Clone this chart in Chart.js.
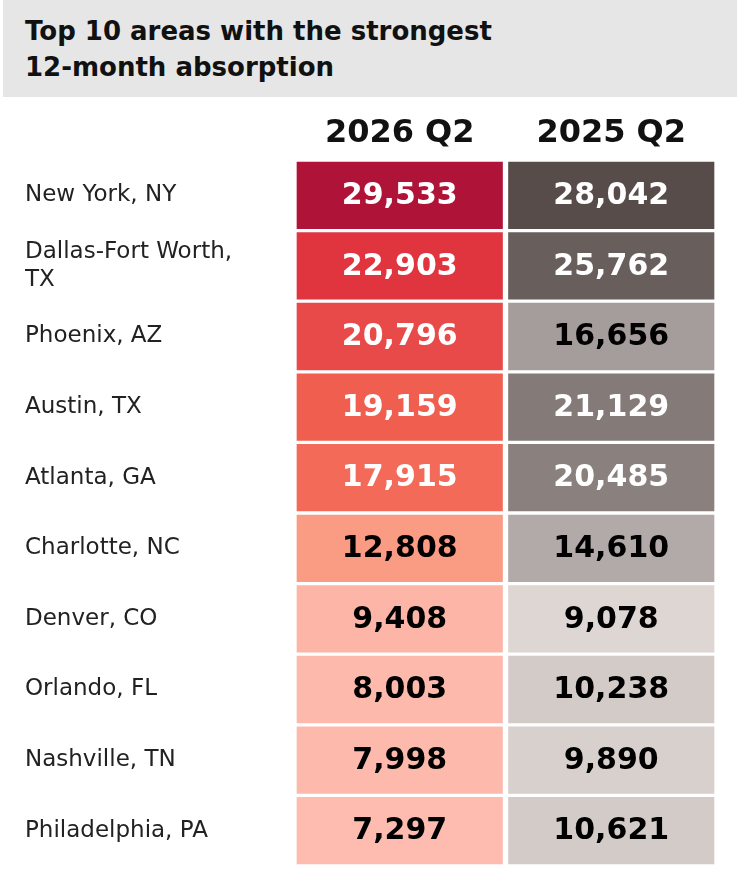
<!DOCTYPE html>
<html>
<head>
<meta charset="utf-8">
<script src="https://cdn.jsdelivr.net/npm/chart.js@4"></script>
<style>
  html, body { margin: 0; padding: 0; background: #fff; }
  #title {
    margin-left: 3px; width: 734px; height: 97px; box-sizing: border-box;
    background: #e6e6e6; padding: 13px 0 0 22px;
    font: bold 26px "DejaVu Sans", sans-serif; line-height: 36px; color: #111;
  }
  #wrap { width: 737px; height: 787px; position: relative; }
</style>
</head>
<body>
<div id="title">Top 10 areas with the strongest<br>12-month absorption</div>
<div id="wrap"><canvas id="heat"></canvas></div>
<script>
// ------------------------------
// Data
// ------------------------------
const areas = [
    'New York, NY', ['Dallas-Fort Worth,', 'TX'], 'Phoenix, AZ', 'Austin, TX', 'Atlanta, GA',
    'Charlotte, NC', 'Denver, CO', 'Orlando, FL', 'Nashville, TN', 'Philadelphia, PA'
];
const columns = ['2026 Q2', '2025 Q2'];
const q2026 = [29533, 22903, 20796, 19159, 17915, 12808, 9408, 8003, 7998, 7297];
const q2025 = [28042, 25762, 16656, 21129, 20485, 14610, 9078, 10238, 9890, 10621];

// Cell styling
const fill2026 = ['#b01338', '#e0353f', '#e84a49', '#ef5e4f', '#f36b58', '#fa9b83', '#fcb5a6', '#fdbaac', '#fdbaac', '#fdbcaf'];
const fill2025 = ['#574c4a', '#685e5c', '#a59d9b', '#847a78', '#8a807e', '#b2aaa8', '#ddd6d3', '#d3cbc8', '#d8d0cd', '#d3cbc8'];
const text2026 = ['#fff', '#fff', '#fff', '#fff', '#fff', '#000', '#000', '#000', '#000', '#000'];
const text2025 = ['#fff', '#fff', '#000', '#fff', '#fff', '#000', '#000', '#000', '#000', '#000'];

const cellBorder = { top: 2, bottom: 2, left: 3, right: 3 };

const cellLabels = {
    id: 'cellLabels',
    afterDatasetsDraw(chart) {
        const c = chart.ctx;
        const values = [q2026, q2025];
        const colors = [text2026, text2025];
        c.save();
        c.textAlign = 'center';
        c.textBaseline = 'middle';
        c.font = 'bold 30px "DejaVu Sans", sans-serif';
        chart.data.datasets.forEach((ds, di) => {
            chart.getDatasetMeta(di).data.forEach((bar, i) => {
                const p = bar.getProps(['x', 'base', 'y'], true);
                c.fillStyle = colors[di][i];
                c.fillText(values[di][i].toLocaleString('en-US'), (p.x + p.base) / 2, p.y + 1);
            });
        });
        // column headers
        const xs = chart.scales.x;
        c.fillStyle = '#111';
        c.font = 'bold 32px "DejaVu Sans", sans-serif';
        columns.forEach((h, i) => c.fillText(h, xs.getPixelForValue(i + 0.5), chart.chartArea.top - 26));
        c.restore();
    }
};

new Chart(document.getElementById('heat'), {
    type: 'bar',
    data: {
        labels: areas,
        datasets: [
            { label: columns[0], data: q2026.map(() => [0, 1]), backgroundColor: fill2026 },
            { label: columns[1], data: q2025.map(() => [1, 2]), backgroundColor: fill2025 }
        ]
    },
    options: {
        indexAxis: 'y',
        responsive: true,
        maintainAspectRatio: false,
        animation: false,
        layout: { padding: { top: 63, bottom: 18, left: 25, right: 20 } },
        datasets: {
            bar: {
                grouped: false, categoryPercentage: 1, barPercentage: 1,
                borderColor: '#fff', borderWidth: cellBorder, borderSkipped: false
            }
        },
        plugins: { legend: { display: false }, tooltip: { enabled: false } },
        scales: {
            x: { min: 0, max: 2, display: false },
            y: {
                grid: { display: false }, border: { display: false },
                afterFit: (s) => { s.width = 269; },
                ticks: { crossAlign: 'far', color: '#222', font: { size: 23, family: '"DejaVu Sans", sans-serif' } }
            }
        }
    },
    plugins: [cellLabels]
});
</script>
</body>
</html>
